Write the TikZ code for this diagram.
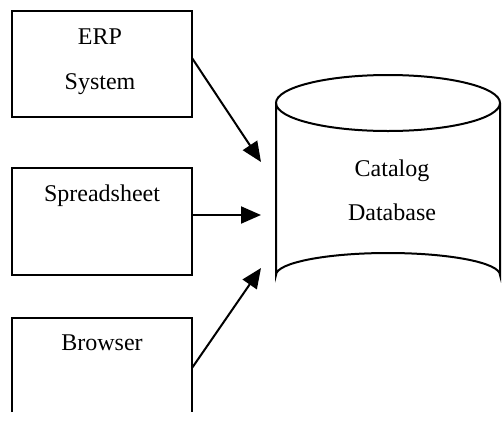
\documentclass[tikz,border=0pt]{standalone}
\usepackage{fontspec}
\setmainfont{Liberation Serif}
\usetikzlibrary{arrows.meta}
\begin{document}
\begin{tikzpicture}[x=1pt,y=-1pt,
  lbl/.style={font=\fontsize{24}{28}\selectfont, inner sep=0pt, anchor=base},
  boxline/.style={line width=2pt},
  conn/.style={line width=2pt, -{Triangle[length=20pt,width=17pt]}}]
\useasboundingbox (0,0) rectangle (502,421);
% boxes
\draw[boxline] (12,11) rectangle (192,117);
\draw[boxline] (12,168) rectangle (192,275);
\draw[boxline] (12,412) -- (12,318) -- (192,318) -- (192,412);
\node[lbl] (erp) at (100,44) {ERP};
\node[lbl] (sys) at (100,89) {System};
\node[lbl] (spr) at (102,201) {Spreadsheet};
\node[lbl] (brw) at (102,350) {Browser};
% anchors for connectors
\coordinate (erpR) at (192,58);
\coordinate (sprR) at (192,215);
\coordinate (brwR) at (192,368);
\coordinate (t1) at (261,162);
\coordinate (t2) at (261,215);
\coordinate (t3) at (261,268);
% cylinder
\draw[boxline] (388,103) ellipse [x radius=112, y radius=28];
\draw[boxline] (276,103) -- (276,275) arc[start angle=180, end angle=360, x radius=112, y radius=22] -- (500,103);
\node[lbl] (cat) at (392,176) {Catalog};
\node[lbl] (db) at (392,220) {Database};
% connectors
\draw[conn] (erpR) -- (t1);
\draw[conn] (sprR) -- (t2);
\draw[conn] (brwR) -- (t3);
\end{tikzpicture}
\end{document}
